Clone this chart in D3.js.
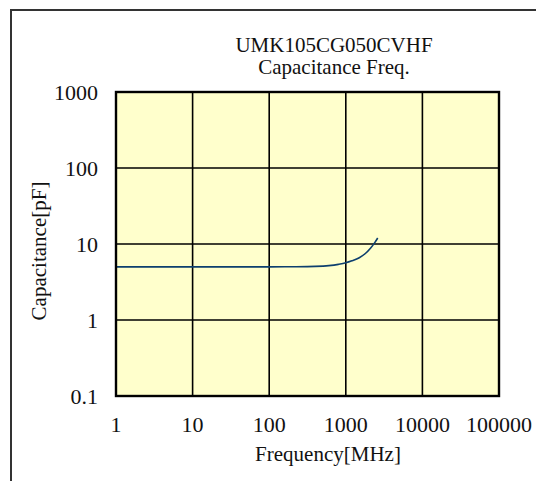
<!DOCTYPE html>
<html>
<head>
<meta charset="utf-8">
<script src="https://cdn.jsdelivr.net/npm/d3@7"></script>
<style>
  body { margin: 0; background: #fff; }
  text { font-family: "Liberation Serif", "Times New Roman", serif; fill: #111; }
</style>
</head>
<body>
<div id="chart"></div>
<script>
// data
const freq = [1, 10, 100, 200, 400, 600, 800, 1000, 1200, 1500, 1800, 2100, 2400, 2610];
const cap  = [5.0, 5.0, 5.0, 5.02, 5.08, 5.2, 5.4, 5.65, 6.0, 6.6, 7.5, 8.8, 10.5, 12.0];
const xTicks = [1, 10, 100, 1000, 10000, 100000];
const yTicks = [0.1, 1, 10, 100, 1000];
const titleLines = ["UMK105CG050CVHF", "Capacitance Freq."];

const W = 536, H = 481;
const plot = {left: 116, top: 92, right: 499, bottom: 396};

const svg = d3.select("#chart")
    .append("svg")
    .attr("width", W)
    .attr("height", H);

// outer frame (runs off the right and bottom)
svg.append("path")
    .attr("d", `M11,${H + 5} L11,10 L${W + 5},10`)
    .attr("fill", "none")
    .attr("stroke", "#333")
    .attr("stroke-width", 2);

const x = d3.scaleLog().domain([1, 100000]).range([plot.left, plot.right]);
const y = d3.scaleLog().domain([0.1, 1000]).range([plot.bottom, plot.top]);

// plot background
svg.append("rect")
    .attr("x", plot.left)
    .attr("y", plot.top)
    .attr("width", plot.right - plot.left)
    .attr("height", plot.bottom - plot.top)
    .attr("fill", "#ffffcc");

// grid lines
svg.append("g").selectAll("line")
    .data(xTicks.slice(1, -1))
    .join("line")
    .attr("x1", d => x(d)).attr("x2", d => x(d))
    .attr("y1", plot.top).attr("y2", plot.bottom)
    .attr("stroke", "#000").attr("stroke-width", 1.6);

svg.append("g").selectAll("line")
    .data(yTicks.slice(1, -1))
    .join("line")
    .attr("x1", plot.left).attr("x2", plot.right)
    .attr("y1", d => y(d)).attr("y2", d => y(d))
    .attr("stroke", "#000").attr("stroke-width", 1.6);

// curve
const line = d3.line()
    .x((d, i) => x(freq[i]))
    .y(d => y(d))
    .curve(d3.curveMonotoneX);

svg.append("path")
    .datum(cap)
    .attr("d", line)
    .attr("fill", "none")
    .attr("stroke", "#0d3f6e")
    .attr("stroke-width", 1.6);

// plot border
svg.append("rect")
    .attr("x", plot.left)
    .attr("y", plot.top)
    .attr("width", plot.right - plot.left)
    .attr("height", plot.bottom - plot.top)
    .attr("fill", "none")
    .attr("stroke", "#000")
    .attr("stroke-width", 2.4);

// tick labels
svg.append("g").selectAll("text")
    .data(yTicks)
    .join("text")
    .attr("x", 98)
    .attr("y", d => y(d) + 8)
    .attr("text-anchor", "end")
    .attr("font-size", 22)
    .text(d => d3.format("")(d));

svg.append("g").selectAll("text")
    .data(xTicks)
    .join("text")
    .attr("x", d => x(d))
    .attr("y", 432)
    .attr("text-anchor", "middle")
    .attr("font-size", 22)
    .text(d => d3.format("")(d));

// titles
svg.append("g").selectAll("text")
    .data(titleLines)
    .join("text")
    .attr("x", 334)
    .attr("y", (d, i) => 52 + i * 22)
    .attr("text-anchor", "middle")
    .attr("font-size", 21)
    .text(d => d);

svg.append("text")
    .attr("x", 328)
    .attr("y", 461)
    .attr("text-anchor", "middle")
    .attr("font-size", 21)
    .text("Frequency[MHz]");

svg.append("text")
    .attr("transform", "translate(46,251) rotate(-90)")
    .attr("text-anchor", "middle")
    .attr("font-size", 21)
    .text("Capacitance[pF]");
</script>
</body>
</html>
